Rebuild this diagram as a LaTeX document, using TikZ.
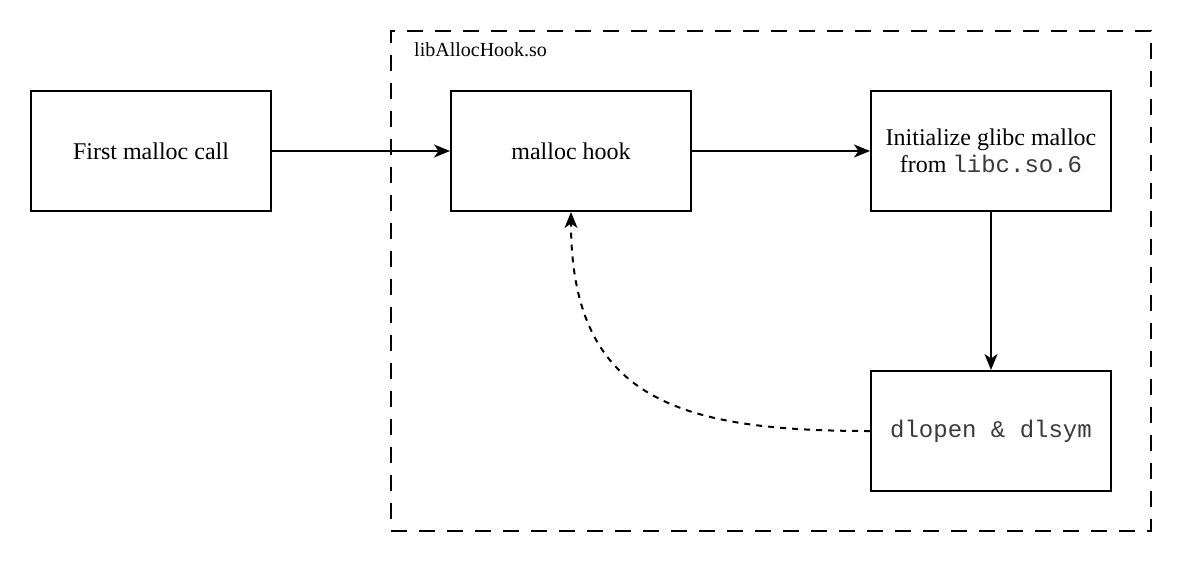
\documentclass[tikz,border=0pt]{standalone}
\usepackage{fontspec}
\setmainfont{Liberation Serif}
\setmonofont{Liberation Mono}
\usetikzlibrary{arrows.meta}
\definecolor{codegray}{HTML}{3A3A3A}
\begin{document}
\begin{tikzpicture}[x=1pt,y=-1pt,
  box/.style={draw=black, line width=2pt, minimum width=240pt, minimum height=120pt, inner sep=0pt, align=center, font=\fontsize{24}{27}\selectfont},
  conn/.style={line width=2pt, -{Stealth[length=16pt,width=13pt,inset=4.5pt]}},
  code/.style={font=\fontsize{24}{27}\selectfont\ttfamily, text=codegray}
]
\useasboundingbox (0,0) rectangle (1182,562);
\node[draw=black, line width=2pt, dash pattern=on 16pt off 12pt, minimum width=760pt, minimum height=500pt, inner sep=0pt] (cont) at (771,281) {};
\node[anchor=west, font=\fontsize{20}{24}\selectfont, inner sep=0pt] (lbl) at (414,50) {libAllocHook.so};
\node[box] (first) at (151,151) {First malloc call};
\node[box] (hook) at (571,151) {malloc hook};
\node[box] (init) at (991,151) {Initialize glibc malloc\\from {\ttfamily\color{codegray}libc.so.6}};
\node[box, font=\fontsize{24}{27}\selectfont\ttfamily, text=codegray] (dl) at (991,431) {dlopen \& dlsym};
\draw[conn] (first.east) -- (hook.west);
\draw[conn] (hook.east) -- (init.west);
\draw[conn] (init.south) -- (dl.north);
\draw[conn, dash pattern=on 6pt off 6pt] (dl.west) .. controls (680,431) and (571,400) .. (hook.south);
\end{tikzpicture}
\end{document}
